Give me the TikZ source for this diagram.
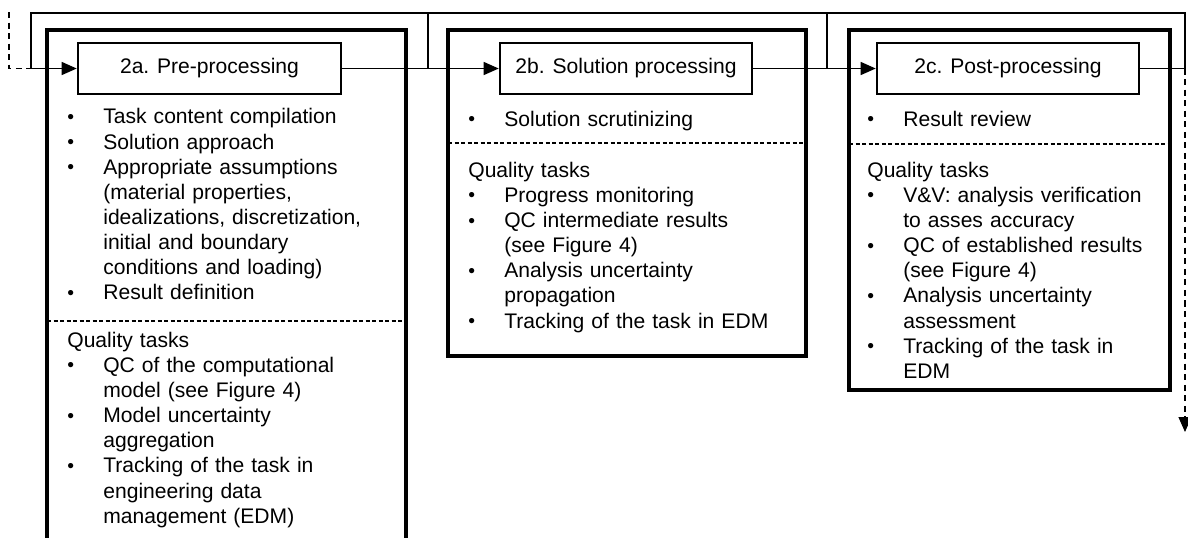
\documentclass[tikz,border=0pt]{standalone}
\usepackage{fontspec}
\setmainfont{Liberation Sans}
\usetikzlibrary{arrows.meta}

\newcommand{\bpt}{\makebox[0.72cm][l]{\raisebox{0.3pt}{\fontsize{11}{11}\selectfont\textbullet}}}
\newcommand{\ind}{\hspace*{0.72cm}}

\begin{document}
\begin{tikzpicture}[x=0.02cm,y=-0.02cm,
  stage/.style={line width=2.6pt},
  steptitle/.style={draw,line width=1.5pt,minimum height=1.02cm,inner sep=0pt,
    font=\fontsize{12}{14.3}\selectfont},
  tasklist/.style={anchor=north west,inner sep=0pt,text width=6.5cm,align=left,
    font=\fontsize{12}{14.3}\selectfont},
  link/.style={line width=0.7pt},
  flow/.style={link,-{Triangle[length=0.3cm,width=0.26cm]}},
  fbdash/.style={dash pattern=on 3.5pt off 2.5pt},
  splitline/.style={line width=0.6pt,dash pattern=on 2.3pt off 1.4pt}]
  \useasboundingbox (0,0) rectangle (1188,538);

  % stage frames
  \draw[stage] (47,545) -- (47,30) -- (406,30) -- (406,545);
  \draw[stage] (448,30) rectangle (806,356);
  \draw[stage] (849,30) rectangle (1170,390);
  \draw[splitline] (47,321) -- (406,321);
  \draw[splitline] (448,143) -- (806,143);
  \draw[splitline] (849,144) -- (1170,144);

  % step titles
  \node[steptitle,minimum width=5.26cm] (pre) at (209.5,68.5) {2a. Pre-processing};
  \node[steptitle,minimum width=5.04cm] (sol) at (626,68.5) {2b. Solution processing};
  \node[steptitle,minimum width=5.24cm] (post) at (1008,68.5) {2c. Post-processing};

  % task lists
  \node[tasklist] (preTasks) at (67,106) {\strut\bpt Task content compilation\\
    \bpt Solution approach\\
    \bpt Appropriate assumptions\\
    \ind(material properties,\\
    \ind idealizations, discretization,\\
    \ind initial and boundary\\
    \ind conditions and loading)\\
    \bpt Result definition};
  \node[tasklist] (preQuality) at (67,329.4) {\strut Quality tasks\\
    \bpt QC of the computational\\
    \ind model (see Figure 4)\\
    \bpt Model uncertainty\\
    \ind aggregation\\
    \bpt Tracking of the task in\\
    \ind engineering data\\
    \ind management (EDM)};
  \node[tasklist] (solTasks) at (468,108.4) {\strut\bpt Solution scrutinizing};
  \node[tasklist] (solQuality) at (468,159.4) {\strut Quality tasks\\
    \bpt Progress monitoring\\
    \bpt QC intermediate results\\
    \ind (see Figure 4)\\
    \bpt Analysis uncertainty\\
    \ind propagation\\
    \bpt Tracking of the task in EDM};
  \node[tasklist] (postTasks) at (867,108.4) {\strut\bpt Result review};
  \node[tasklist] (postQuality) at (867,159.4) {\strut Quality tasks\\
    \bpt V\&V: analysis verification\\
    \ind to asses accuracy\\
    \bpt QC of established results\\
    \ind (see Figure 4)\\
    \bpt Analysis uncertainty\\
    \ind assessment\\
    \bpt Tracking of the task in\\
    \ind EDM};

  % connectors
  \coordinate (j0) at (31,68.5);
  \coordinate (j1) at (428,68.5);
  \coordinate (j2) at (827,68.5);
  \coordinate (j3) at (1185,68.5);
  \coordinate (t0) at (31,13);
  \coordinate (t1) at (428,13);
  \coordinate (t2) at (827,13);
  \coordinate (t3) at (1185,13);
  \coordinate (prev) at (9,12);
  \coordinate (next) at (1185,432);
  \draw[link] (j0) -- (t0) -- (t3) -- (j3);
  \draw[link] (t1) -- (j1);
  \draw[link] (t2) -- (j2);
  \draw[flow] (j0) -- (pre.west);
  \draw[flow] (pre.east) -- (sol.west);
  \draw[flow] (sol.east) -- (post.west);
  \draw[link] (post.east) -- (j3);
  \draw[link,fbdash] (prev) |- (j0);
  \draw[flow,fbdash] (j3) -- (next);
\end{tikzpicture}
\end{document}
